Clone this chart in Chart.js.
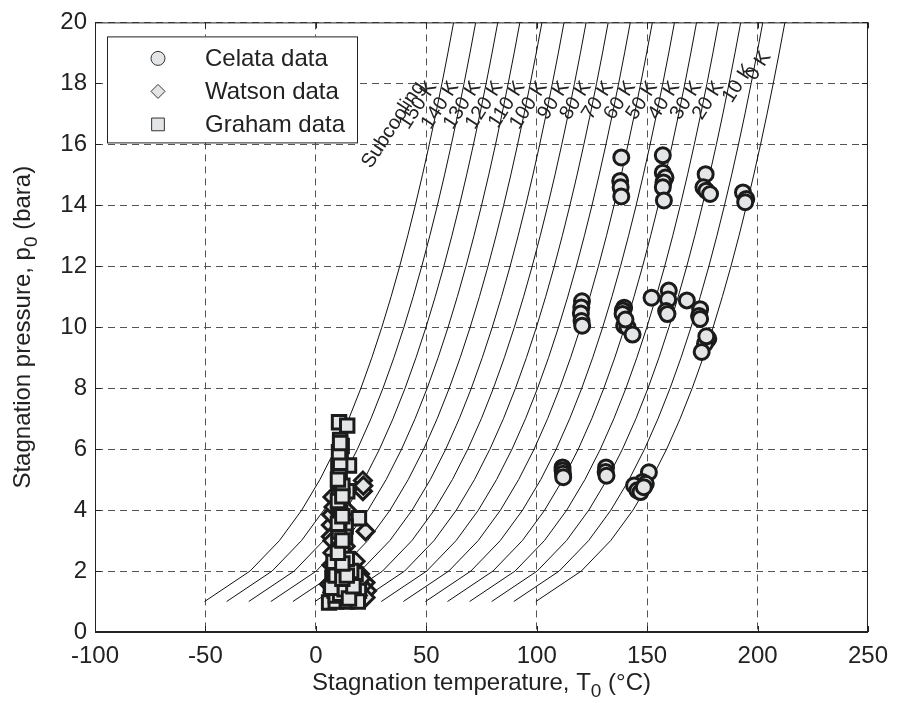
<!DOCTYPE html>
<html>
<head>
<meta charset="utf-8">
<title>Stagnation pressure vs temperature</title>
<script src="https://cdn.jsdelivr.net/npm/chart.js@4.4.1/dist/chart.umd.min.js"></script>
<style>
  html, body { margin: 0; padding: 0; background: #ffffff; }
  #wrap { width: 898px; height: 703px; }
</style>
</head>
<body>
<div id="wrap"><canvas id="chart" width="898" height="703"></canvas></div>
<script>
const FONT = "'Liberation Sans', Arial, Helvetica, sans-serif";
const INK = "#222222";

const xTicks = [-100, -50, 0, 50, 100, 150, 200, 250];
const yTicks = [0, 2, 4, 6, 8, 10, 12, 14, 16, 18, 20];

// saturation line of water (steam table), bar -> degC
const satPressure = [1, 2, 3, 4, 5, 6, 7, 8, 9, 10, 11, 12, 13, 14, 15, 16, 17, 18, 19, 20];
const satTemperature = [
  99.61, 120.21, 133.52, 143.61, 151.83, 158.83, 164.95, 170.41, 175.35, 179.88,
  184.06, 187.96, 191.6, 195.04, 198.29, 201.37, 204.31, 207.11, 209.8, 212.38,
];
const subcoolingLevels = [0, 10, 20, 30, 40, 50, 60, 70, 80, 90, 100, 110, 120, 130, 140, 150];

const celataTemp = [
  111.7, 111.7, 111.9, 112.0,
  131.4, 131.2, 131.6,
  150.8, 147.9, 144.1, 145.6, 147.0, 149.4, 148.5,
  120.5, 120.2, 120.0, 120.3, 120.6,
  139.6, 139.0, 138.9, 139.6, 141.1, 143.4, 140.2,
  152.0, 159.8, 159.5, 158.6, 159.2,
  168.0, 174.0, 173.5, 174.0, 177.7, 176.2, 174.7, 176.8,
  138.3, 137.8, 138.0, 138.3,
  157.1, 157.1, 158.3, 157.4, 157.1, 157.6,
  176.5, 175.5, 176.8, 178.5,
  193.4, 194.9, 194.4,
];
const celataPres = [
  5.40, 5.30, 5.19, 5.08,
  5.40, 5.25, 5.13,
  5.24, 4.92, 4.81, 4.65, 4.59, 4.86, 4.75,
  10.85, 10.65, 10.45, 10.2, 10.05,
  10.64, 10.55, 10.43, 10.05, 10.0, 9.76, 10.25,
  10.97, 11.2, 10.91, 10.53, 10.43,
  10.88, 10.59, 10.37, 10.27, 9.62, 9.46, 9.19, 9.7,
  15.57, 14.80, 14.59, 14.29,
  15.64, 15.07, 14.91, 14.75, 14.59, 14.16,
  15.02, 14.59, 14.48, 14.37,
  14.42, 14.21, 14.10,
];

const watsonTemp = [
  21.3, 21.3, 22.5, 6.8, 6.8, 7.5, 22.5, 23.2, 22.5, 13.5, 6.0, 18.0, 7.0, 20.0, 7.0,
  14.0, 19.0, 7.5, 7.5, 7.5, 8.0, 7.5, 21.0, 20.5, 21.5,
];
const watsonPres = [
  4.97, 4.62, 3.30, 3.51, 3.13, 4.43, 1.62, 1.35, 1.13, 2.81, 1.57, 2.32, 2.2, 1.9, 3.85,
  4.0, 1.2, 1.1, 2.6, 3.0, 4.1, 1.3, 1.5, 1.75, 4.8,
];

const grahamTemp = [
  10.5, 14.2, 11.7, 11.2, 15.0, 10.2, 10.2, 14.2, 10.5, 10.2, 19.5, 13.5, 10.5, 13.2,
  10.2, 10.5, 13.5, 18.0, 7.5, 10.2, 13.5, 19.5, 6.8, 10.5, 6.0, 16.5,
  11.0, 10.8, 12.0, 11.0, 10.5, 11.5, 12.0, 8.0, 12.0, 15.0, 8.5, 12.5, 17.0, 9.0,
  14.0, 19.0, 8.0, 16.0, 11.0, 14.0,
  9.0, 11.0, 13.0, 15.0, 17.0, 7.0, 9.0, 12.0, 14.0, 8.0, 12.0, 10.0, 12.0, 10.0,
  12.0, 10.0, 12.0, 10.0, 11.0, 10.5, 11.0,
];
const grahamPres = [
  6.88, 6.77, 6.10, 5.73, 5.46, 5.40, 4.92, 4.62, 4.43, 4.16, 3.73, 3.46, 3.73, 3.13,
  2.97, 2.38, 2.11, 1.89, 1.78, 1.51, 1.30, 1.35, 1.19, 1.03, 0.97, 1.03,
  6.3, 5.1, 4.8, 3.9, 3.3, 2.7, 2.55, 2.0, 1.95, 1.6, 1.35, 1.15, 1.25, 1.0,
  1.0, 1.0, 1.6, 2.0, 1.7, 2.4,
  1.2, 1.25, 1.4, 1.1, 1.5, 1.45, 1.85, 1.75, 1.85, 2.3, 2.25, 2.6, 3.0, 3.55,
  3.8, 4.3, 4.45, 5.0, 5.55, 5.9, 6.2,
];

const seriesNames = ["Celata data", "Watson data", "Graham data"];
const seriesStyles = ["circle", "rectRot", "rect"];

// label shift (px) for the two rightmost subcooling labels
const labelLift = { 0: 30, 10: 17 };
const labelShift = { 0: 3, 10: 8 };

function toPoints(xs, ys) {
  return xs.map((x, i) => ({ x: x, y: ys[i] }));
}

function markerDataset(label, style, radius, points) {
  return {
    label: label,
    data: points,
    pointStyle: style,
    pointRadius: radius,
    borderWidth: 3,
    borderColor: "#1b1b1b",
    backgroundColor: "#e4e5e6",
    showLine: false,
  };
}

// curves of constant subcooling, T = Tsat(p) - dT
const curveDatasets = subcoolingLevels.map((dT) => ({
  label: dT + " K",
  data: satPressure.map((p, i) => ({ x: satTemperature[i] - dT, y: p })),
  showLine: true,
  borderColor: "#111111",
  borderWidth: 1,
  pointRadius: 0,
  tension: 0,
  fill: false,
}));

// text with a lowered "0" subscript
function drawSubText(ctx, before, sub, after, x, y) {
  ctx.font = "24px " + FONT;
  const w1 = ctx.measureText(before).width;
  const w3 = ctx.measureText(after).width;
  ctx.font = "19px " + FONT;
  const w2 = ctx.measureText(sub).width;
  const total = w1 + w2 + w3;
  let cx = x - total / 2;
  ctx.textAlign = "left";
  ctx.textBaseline = "alphabetic";
  ctx.font = "24px " + FONT;
  ctx.fillText(before, cx, y);
  cx += w1;
  ctx.font = "19px " + FONT;
  ctx.fillText(sub, cx, y + 7);
  cx += w2;
  ctx.font = "24px " + FONT;
  ctx.fillText(after, cx, y);
}

const overlayPlugin = {
  id: "overlay",
  afterDraw(chart) {
    const { ctx, chartArea, scales } = chart;
    const xs = scales.x;
    const ys = scales.y;
    ctx.save();

    // frame and inward ticks
    ctx.strokeStyle = INK;
    ctx.lineWidth = 1;
    ctx.setLineDash([]);
    ctx.strokeRect(chartArea.left + 0.5, chartArea.top + 0.5,
      chartArea.right - chartArea.left - 1, chartArea.bottom - chartArea.top - 1);
    ctx.beginPath();
    xTicks.forEach((v) => {
      const px = Math.round(xs.getPixelForValue(v)) + 0.5;
      ctx.moveTo(px, chartArea.bottom);
      ctx.lineTo(px, chartArea.bottom - 6);
      ctx.moveTo(px, chartArea.top);
      ctx.lineTo(px, chartArea.top + 6);
    });
    yTicks.forEach((v) => {
      const py = Math.round(ys.getPixelForValue(v)) + 0.5;
      ctx.moveTo(chartArea.left, py);
      ctx.lineTo(chartArea.left + 6, py);
      ctx.moveTo(chartArea.right, py);
      ctx.lineTo(chartArea.right - 6, py);
    });
    ctx.stroke();

    // axis titles
    ctx.fillStyle = INK;
    drawSubText(ctx, "Stagnation temperature, T", "0", " (\u00b0C)",
      (chartArea.left + chartArea.right) / 2, 690);
    ctx.save();
    ctx.translate(30, (chartArea.top + chartArea.bottom) / 2);
    ctx.rotate(-Math.PI / 2);
    drawSubText(ctx, "Stagnation pressure, p", "0", " (bara)", 0, 0);
    ctx.restore();

    // subcooling labels
    const angle = -57 * Math.PI / 180;
    ctx.font = "20px " + FONT;
    ctx.textAlign = "right";
    ctx.textBaseline = "alphabetic";
    const topIdx = satPressure.indexOf(18);
    const labelY = ys.getPixelForValue(18) + 3;
    subcoolingLevels.forEach((dT) => {
      const lx = xs.getPixelForValue(satTemperature[topIdx] - dT) - 5 + (labelShift[dT] || 0);
      ctx.save();
      ctx.translate(lx, labelY - (labelLift[dT] || 0));
      ctx.rotate(angle);
      ctx.fillText(dT + " K", 0, 0);
      ctx.restore();
    });
    const subX = xs.getPixelForValue(satTemperature[topIdx] - 150) - 17;
    ctx.save();
    ctx.translate(subX, labelY);
    ctx.rotate(angle);
    ctx.fillText("Subcooling", 0, 0);
    ctx.restore();

    // legend
    const bx = chartArea.left + 12;
    const by = chartArea.top + 14;
    ctx.fillStyle = "#ffffff";
    ctx.fillRect(bx, by, 250, 106);
    ctx.strokeStyle = INK;
    ctx.lineWidth = 1;
    ctx.strokeRect(bx + 0.5, by + 0.5, 250, 106);
    ctx.font = "24px " + FONT;
    ctx.textAlign = "left";
    ctx.textBaseline = "middle";
    seriesNames.forEach((name, i) => {
      const cy = by + 22 + i * 33;
      ctx.fillStyle = "#e4e5e6";
      ctx.strokeStyle = "#333333";
      ctx.lineWidth = 1;
      Chart.helpers.drawPoint(ctx, {
        pointStyle: seriesStyles[i],
        radius: seriesStyles[i] === "rect" ? 9 : 7,
        borderWidth: 1,
        rotation: 0,
      }, bx + 51, cy);
      ctx.fillStyle = INK;
      ctx.fillText(name, bx + 98, cy + 1);
    });
    ctx.restore();
  },
};

function drawChart() {
  const ctx = document.getElementById("chart");
  // lower index is drawn on top: Celata over Graham over Watson over curves
  const datasets = [
    markerDataset(seriesNames[0], "circle", 7.5, toPoints(celataTemp, celataPres)),
    markerDataset(seriesNames[2], "rect", 9.5, toPoints(grahamTemp, grahamPres)),
    markerDataset(seriesNames[1], "rectRot", 8.5, toPoints(watsonTemp, watsonPres)),
  ].concat(curveDatasets);

  const config = {
    type: "scatter",
    data: { datasets: datasets },
    options: {
      responsive: false,
      animation: false,
      events: [],
      layout: { padding: { top: 16, right: 23, left: 0, bottom: 0 } },
      plugins: {
        legend: { display: false },
        tooltip: { enabled: false },
      },
      scales: {
        x: {
          type: "linear",
          min: -100,
          max: 250,
          afterBuildTicks: (scale) => {
            scale.ticks = xTicks.map((v) => ({ value: v }));
          },
          afterFit: (scale) => {
            scale.height = 71;
          },
          ticks: {
            color: INK,
            font: { family: FONT, size: 24 },
            padding: 10,
            maxRotation: 0,
          },
          grid: { color: "#555555", lineWidth: 1, drawTicks: false },
          border: { display: true, color: INK, width: 1, dash: [7, 5] },
        },
        y: {
          type: "linear",
          min: 0,
          max: 20,
          afterBuildTicks: (scale) => {
            scale.ticks = yTicks.map((v) => ({ value: v }));
          },
          afterFit: (scale) => {
            scale.width = 95;
          },
          ticks: {
            color: INK,
            font: { family: FONT, size: 24 },
            padding: 8,
          },
          grid: { color: "#555555", lineWidth: 1, drawTicks: false },
          border: { display: true, color: INK, width: 1, dash: [7, 5] },
        },
      },
    },
    plugins: [overlayPlugin],
  };
  return new Chart(ctx, config);
}

drawChart();
</script>
</body>
</html>
